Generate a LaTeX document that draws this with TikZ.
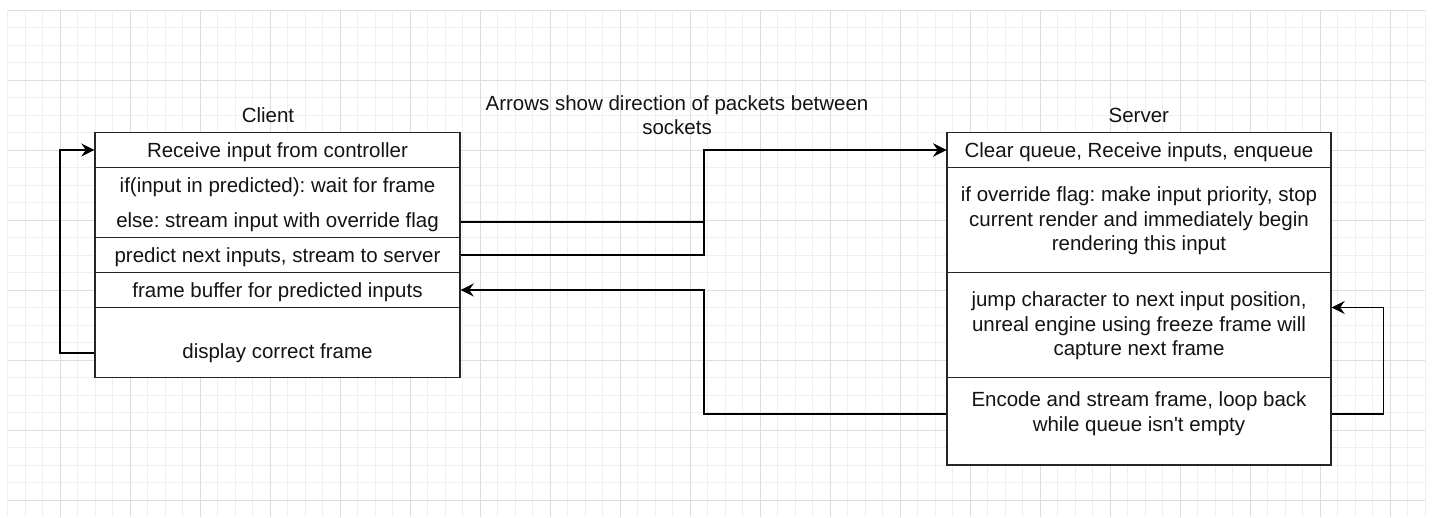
\documentclass[tikz,border=0pt]{standalone}
\usepackage{fontspec}
\setmainfont{Liberation Sans}
\usetikzlibrary{arrows.meta}
\definecolor{gridminor}{HTML}{EFEFEF}
\definecolor{gridmajor}{HTML}{DDDDDD}
\definecolor{boxc}{HTML}{262626}
\frenchspacing
\begin{document}
\begin{tikzpicture}[x=1pt,y=-1pt,
  crow/.style={draw=boxc, line width=1.4pt, fill=white, minimum width=365pt, inner sep=0pt},
  srow/.style={draw=boxc, line width=1.4pt, fill=white, minimum width=384pt, inner sep=0pt},
  txt/.style={font=\fontsize{20.5}{24.5}\selectfont\frenchspacing, text=black!92, align=center, inner sep=0pt},
  ln/.style={txt, text height=14.5pt, text depth=4.5pt, yshift=-2pt},
  arr/.style={draw=black, line width=1.7pt, -{Stealth[length=13pt,width=13pt,inset=4.5pt]}},
  gmin/.style={draw=gridminor, line width=1pt},
  gmaj/.style={draw=gridmajor, line width=1pt}]
\useasboundingbox (0,0) rectangle (1432,517);
\fill[white] (0,0) rectangle (1432,517);
% grid
\foreach \i in {0,...,81} {\draw[gmin] ({7.5+17.5*\i},10) -- ({7.5+17.5*\i},517);}
\foreach \j in {0,...,28} {\draw[gmin] (7.5,{10+17.5*\j}) -- (1425,{10+17.5*\j});}
\foreach \i in {0,...,19} {\draw[gmaj] ({60+70*\i},10) -- ({60+70*\i},517);}
\foreach \j in {0,...,7} {\draw[gmaj] (7.5,{10+70*\j}) -- (1425,{10+70*\j});}

% client
\node[crow, minimum height=35pt] (cr1) at (277.5,150) {};
\node[crow, minimum height=70pt] (cr2) at (277.5,202.5) {};
\node[crow, minimum height=35pt] (cr3) at (277.5,255) {};
\node[crow, minimum height=35pt] (cr4) at (277.5,290) {};
\node[crow, minimum height=70pt] (cr5) at (277.5,342.5) {};
\node[ln] (cr1t) at (cr1) {Receive input from controller};
\node[ln] (cr2a) at (277.5,185) {if(input in predicted): wait for frame};
\node[ln] (cr2b) at (277.5,220) {else: stream input with override flag};
\node[ln] (cr3t) at (cr3) {predict next inputs, stream to server};
\node[ln] (cr4t) at (cr4) {frame buffer for predicted inputs};
\node[ln] (cr5t) at (277.5,351) {display correct frame};

% server
\node[srow, minimum height=35pt] (sr1) at (1139,150) {};
\node[srow, minimum height=105pt] (sr2) at (1139,220) {};
\node[srow, minimum height=105pt] (sr3) at (1139,325) {};
\node[srow, minimum height=87.5pt] (sr4) at (1139,421.25) {};
\node[ln] (sr1t) at (sr1) {Clear queue, Receive inputs, enqueue};
\node[txt] (sr2t) at (1139,221) {if override flag: make input priority, stop\\current render and immediately begin\\rendering this input};
\node[txt] (sr3t) at (1139,326) {jump character to next input position,\\unreal engine using freeze frame will\\capture next frame};
\node[txt] (sr4t) at (1139,413.5) {Encode and stream frame, loop back\\while queue isn\textquotesingle t empty};

% labels
\node[ln] (client) at (268,115) {Client};
\node[ln] (server) at (1138.8,115) {Server};
\node[txt] (note) at (677,115) {Arrows show direction of packets between\\sockets};

% connectors
\coordinate (mx) at (704,0);
\coordinate (rx) at (1383.5,0);
\coordinate (lx) at (60,0);
\draw[arr] (cr2b -| cr2.east) -- (cr2b -| mx) |- (sr1.west);
\draw[arr] (cr3.east) -- (cr3.east -| mx) |- (sr1.west);
\draw[arr] ([yshift=-0.5pt]sr4t -| sr4.west) -- ([yshift=-0.5pt]sr4t -| mx) |- (cr4.east);
\draw[arr] ([yshift=-0.5pt]sr4t -| sr4.east) -- ([yshift=-0.5pt]sr4t -| rx) |- ([yshift=17.5pt]sr3.east);
\draw[arr] (cr5t -| cr5.west) -- (cr5t -| lx) |- (cr1.west);
\end{tikzpicture}
\end{document}
